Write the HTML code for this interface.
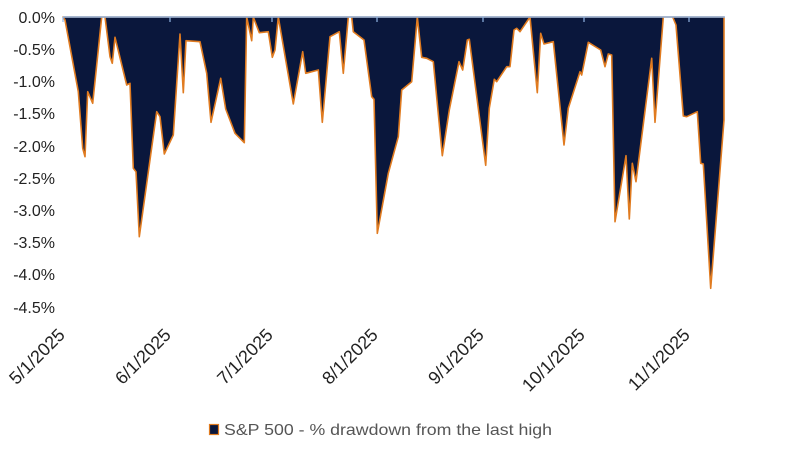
<!DOCTYPE html>
<html><head><meta charset="utf-8"><style>
html,body{margin:0;padding:0;background:#fff;}
svg{display:block;}
text{font-family:"Liberation Sans",sans-serif;}
</style></head><body>
<svg width="787" height="465" viewBox="0 0 787 465" xmlns="http://www.w3.org/2000/svg">
<polygon fill="#0a173c" stroke="#e07b20" stroke-width="1.6" stroke-linejoin="round" points="63,17 65,20 78.3,91.7 82.7,148.3 85,156.7 87.7,91.7 92.7,103.3 101.7,17 105,17 110,56.7 112.3,63.3 115,37.3 126.7,85 130,83.3 133.3,168.3 136,171.7 139.3,236.7 156.7,111.7 160,116.7 164.3,154 173.3,135 180,34 183.3,92.7 186,40.7 200,41.7 206.7,73.3 211,122.3 220.7,78.3 225.7,109 235,133.3 244.3,142.7 246.7,17 251.7,40.7 253.3,17 259.3,32.7 268.3,31.7 272.3,57.3 275,50 278.3,17 293.3,104 302.7,51.7 305.7,73.3 318.3,70 322.3,122.3 330,36.7 339.3,31.7 343.3,73.3 348.3,17 351.7,17 353.3,31.7 364,40 371.7,96.7 374,99.3 377.3,233.3 388.3,173.3 398.3,136.7 401.7,90 411.7,81.7 417.3,17 421.7,57.3 426.7,58.3 433.3,61.7 442.3,155.7 449.3,110 459,61.7 462.7,70 467.3,40 469.3,39.3 485.7,165.3 489.3,108.3 494.3,79.3 496.7,81.7 506.7,66.7 510,66.7 514,30 516.7,28.3 520,31.7 530,17 537.3,92.7 540.7,33.3 544,44 553.3,41.7 564,145 568.3,108.3 580,71.7 581.7,75 588.3,42.3 600.7,50 605,66.7 608.3,54 611.7,55 615,221.7 626,155.7 629.3,219 632.3,163.3 636,181.7 651.7,58.3 655,122.3 663.3,17 672.7,17 676,25 683.3,116 686.7,116.7 697.3,111.7 700.7,163.3 703.3,164 710.7,288.3 724,120 724,17"/>
<line x1="63" y1="17" x2="725" y2="17" stroke="#8fb4e3" stroke-width="1.5"/>
<g stroke="#8fb4e3" stroke-width="1.2">
<line x1="63" y1="17" x2="63" y2="22"/><line x1="170" y1="17" x2="170" y2="22"/><line x1="272" y1="17" x2="272" y2="22"/><line x1="377" y1="17" x2="377" y2="22"/><line x1="483" y1="17" x2="483" y2="22"/><line x1="584" y1="17" x2="584" y2="22"/><line x1="689" y1="17" x2="689" y2="22"/>
</g>
<g font-size="16" fill="#222" text-anchor="end">
<text x="55" y="23">0.0%</text>
<text x="55" y="55">-0.5%</text>
<text x="55" y="87">-1.0%</text>
<text x="55" y="119">-1.5%</text>
<text x="55" y="152">-2.0%</text>
<text x="55" y="184">-2.5%</text>
<text x="55" y="216">-3.0%</text>
<text x="55" y="248">-3.5%</text>
<text x="55" y="280">-4.0%</text>
<text x="55" y="313">-4.5%</text>
</g>
<g font-size="18" fill="#222" text-anchor="end">
<text transform="translate(66,336) rotate(-45)">5/1/2025</text>
<text transform="translate(172,336) rotate(-45)">6/1/2025</text>
<text transform="translate(274,336) rotate(-45)">7/1/2025</text>
<text transform="translate(379,336) rotate(-45)">8/1/2025</text>
<text transform="translate(485,336) rotate(-45)">9/1/2025</text>
<text transform="translate(586,336) rotate(-45)">10/1/2025</text>
<text transform="translate(691,336) rotate(-45)">11/1/2025</text>
</g>
<rect x="209.5" y="424.5" width="9" height="10" fill="#0a173c" stroke="#e07b20" stroke-width="1.2"/>
<text x="224" y="435" font-size="16" fill="#555" textLength="328" lengthAdjust="spacingAndGlyphs">S&amp;P 500 - % drawdown from the last high</text>
</svg>
</body></html>
